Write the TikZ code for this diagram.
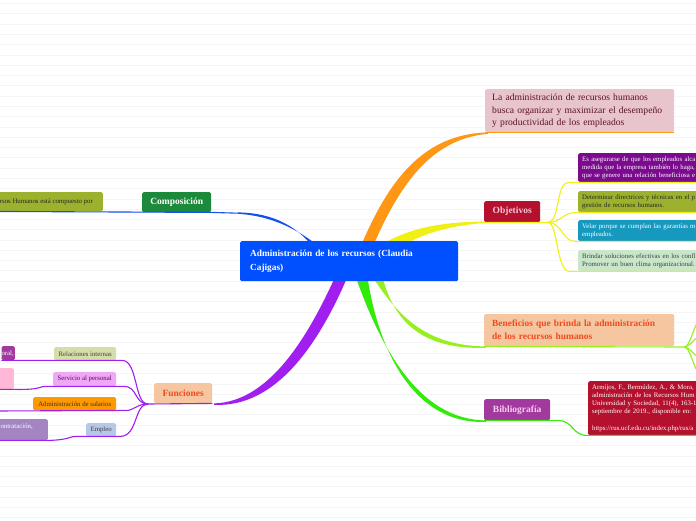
\documentclass[tikz,border=0pt]{standalone}
\usepackage{fontspec}
\setmainfont{Liberation Serif}
\usepackage{xcolor}
\usetikzlibrary{positioning}

\definecolor{centerblue}{RGB}{0,80,255}
\definecolor{compgreen}{RGB}{27,138,58}
\definecolor{olivebox}{RGB}{156,178,46}
\definecolor{pinkbox}{RGB}{232,197,204}
\definecolor{pinktext}{RGB}{90,20,40}
\definecolor{crimson}{RGB}{181,16,46}
\definecolor{objtext}{RGB}{245,200,215}
\definecolor{purplebox}{RGB}{123,10,142}
\definecolor{tealbox}{RGB}{22,153,191}
\definecolor{mintbox}{RGB}{200,230,202}
\definecolor{peachbox}{RGB}{245,198,160}
\definecolor{redorange}{RGB}{240,74,32}
\definecolor{magentabox}{RGB}{162,57,158}
\definecolor{biblitext}{RGB}{248,205,240}
\definecolor{relbox}{RGB}{213,222,168}
\definecolor{servbox}{RGB}{240,168,245}
\definecolor{pinkleft}{RGB}{255,184,216}
\definecolor{salbox}{RGB}{255,153,0}
\definecolor{empbox}{RGB}{181,200,232}
\definecolor{lavbox}{RGB}{163,133,194}
\definecolor{bluebr}{RGB}{20,80,240}
\definecolor{orangebr}{RGB}{255,150,20}
\definecolor{yellowbr}{RGB}{240,240,20}
\definecolor{limebr}{RGB}{150,240,30}
\definecolor{greenbr}{RGB}{50,235,10}
\definecolor{violetbr}{RGB}{160,30,240}

\begin{document}
\begin{tikzpicture}[x=1pt, y=-1pt,
    ruled/.style={draw=black!4, line width=0.4pt},
    box/.style={rectangle, rounded corners=1.5pt, anchor=north west, inner ysep=0pt},
    title/.style={box, inner xsep=0pt, font=\bfseries\fontsize{9.5}{12}\selectfont},
    note/.style={box, align=left, inner xsep=4pt, text width=170pt, font=\fontsize{6.8}{8}\selectfont},
    tag/.style={box, inner xsep=0pt, font=\fontsize{6.8}{8}\selectfont},
    wire/.style={line width=1.1pt}]

  \useasboundingbox (0,0) rectangle (696,520);
  \fill[white] (0,0) rectangle (696,520);
  % ruled background
  \foreach \k in {0,...,50}
    \draw[ruled] (0,{3.4+10.28*\k}) -- (696,{3.4+10.28*\k});

  % main branches
  \fill[bluebr] (321,258) .. controls (300,225) and (272,213) .. (238,212.4)
    -- (238,213.8) .. controls (274,216) and (306,232) .. (331,258) -- cycle;
  \fill[orangebr] (356,258) .. controls (385,185) and (420,134) .. (488,132.4)
    -- (488,133.8) .. controls (428,139) and (396,190) .. (368,258) -- cycle;
  \fill[yellowbr] (373,250) .. controls (405,228) and (440,222) .. (486,221.4)
    -- (486,222.8) .. controls (445,226) and (412,236) .. (388,256) -- cycle;
  \fill[limebr] (366,266) .. controls (395,315) and (425,346) .. (486,346.4)
    -- (486,347.8) .. controls (418,350) and (390,318) .. (380,266) -- cycle;
  \fill[greenbr] (352,266) .. controls (380,350) and (420,420) .. (486,420.4)
    -- (486,421.8) .. controls (414,425) and (376,350) .. (366,266) -- cycle;
  \fill[violetbr] (340,266) .. controls (312,330) and (272,402) .. (214,403.4)
    -- (214,404.8) .. controls (278,408) and (322,340) .. (352,266) -- cycle;

  % centre
  \node[box, fill=centerblue, text=white, align=left, inner xsep=10pt,
    text width=198pt, minimum height=40pt,
    font=\bfseries\fontsize{9.3}{14}\selectfont] (admin) at (240,241)
    {Administración de los recursos (Claudia\\Cajigas)};

  % Composición
  \node[title, fill=compgreen, text=white, minimum width=69pt, minimum height=20pt] (comp) at (142,192) {Composición};
  \node[tag, anchor=north east, fill=olivebox, text=black!85, minimum height=19pt] (struct) at (103,192)
    {Recursos Humanos está compuesto por\hspace*{10pt}};
  \draw[wire, bluebr] (struct.south west) -- (comp.south east) -- ++(27,0.8);

  % definition
  \node[box, fill=pinkbox, text=pinktext, align=left, inner xsep=7pt, text width=175pt,
    minimum height=43pt, font=\fontsize{9.6}{12.4}\selectfont] (define) at (485,89)
    {La administración de recursos humanos\\busca organizar y maximizar el desempeño\\y productividad de los empleados};
  \draw[wire, orangebr] (define.south west) -- (define.south east);

  % Objetivos
  \node[title, fill=crimson, text=objtext, minimum width=56pt, minimum height=21pt] (goals) at (484,201) {Objetivos};
  \coordinate (goalhub) at (548,222.5);
  \node[note, fill=purplebox, text=white, minimum height=29pt] (goal1) at (578,153)
    {Es asegurarse de que los empleados alca\\medida que la empresa también lo haga,\\que se genere una relación beneficiosa e};
  \node[note, fill=olivebox, text=black!85, minimum height=21pt] (goal2) at (578,191)
    {Determinar directrices y técnicas en el p\\gestión de recursos humanos.};
  \node[note, fill=tealbox, text=white, minimum height=21pt] (goal3) at (578,220)
    {Velar porque se cumplan las garantías m\\empleados.};
  \node[note, fill=mintbox, text=black!75, minimum height=21pt] (goal4) at (578,250)
    {Brindar soluciones efectivas en los confl\\Promover un buen clima organizacional.};
  \draw[wire, yellowbr] (goals.south west) -- (goalhub);
  \draw[wire, yellowbr] (goalhub) .. controls (560,222) and (556,183) .. ([xshift=-10pt]goal1.south west) -- (goal1.south east);
  \draw[wire, yellowbr] (goalhub) .. controls (562,222) and (562,213) .. ([xshift=-2pt]goal2.south west) -- (goal2.south east);
  \draw[wire, yellowbr] (goalhub) .. controls (562,222) and (562,242) .. ([xshift=-2pt]goal3.south west) -- (goal3.south east);
  \draw[wire, yellowbr] (goalhub) .. controls (558,222) and (556,272) .. ([xshift=-8pt]goal4.south west) -- (goal4.south east);

  % Beneficios
  \node[box, fill=peachbox, text=redorange, align=left, inner xsep=8pt, text width=174pt,
    minimum height=32pt, font=\bfseries\fontsize{9.4}{13}\selectfont] (gains) at (484,314)
    {Beneficios que brinda la administración\\de los recursos humanos};
  \coordinate (gainhub) at (684,347);
  \draw[wire, limebr] (gains.south west) -- (gainhub);
  \draw[wire, limebr] (gainhub) .. controls (690,347) and (692,330) .. (700,318);
  \draw[wire, limebr] (gainhub) .. controls (690,347) and (692,340) .. (700,336);
  \draw[wire, limebr] (gainhub) .. controls (690,347) and (692,354) .. (700,358);
  \draw[wire, limebr] (gainhub) .. controls (690,347) and (692,364) .. (700,376);

  % Bibliografía
  \node[title, fill=magentabox, text=biblitext, minimum width=66pt, minimum height=21pt] (biblio) at (484,399) {Bibliografía};
  \node[note, fill=crimson, text=white, minimum height=54pt, font=\fontsize{6.8}{8.2}\selectfont] (refs) at (588,381)
    {Armijos, F., Bermúdez, A., \& Mora, N.\\administración de los Recursos Hum\\Universidad y Sociedad, 11(4), 163-1\\septiembre de 2019., disponible en:\\[8.2pt]https://rus.ucf.edu.cu/index.php/rus/a};
  \draw[wire, greenbr] (biblio.south west) -- ([xshift=8pt]biblio.south east)
    .. controls (574,421) and (572,436) .. (refs.south west) -- (refs.south east);

  % Funciones
  \node[title, fill=peachbox, text=redorange, minimum width=58pt, minimum height=20pt] (tasks) at (154,383) {Funciones};
  \coordinate (taskhub) at (148,404);
  \draw[wire, violetbr] (tasks.south east) -- (taskhub);

  \node[tag, fill=relbox, text=black!75, minimum width=62pt, minimum height=13pt] (rel) at (54,347) {Relaciones internas};
  \node[tag, anchor=north east, fill=magentabox, text=white, minimum height=14pt] (relleft) at (15,346) {oral,\hspace*{1pt}};
  \node[tag, fill=servbox, text=purplebox!70!black, minimum width=63pt, minimum height=14pt] (serv) at (53,372) {Servicio al personal};
  \node[box, anchor=north east, fill=pinkleft, minimum width=30pt, minimum height=21pt] (servleft) at (14,368) {};
  \node[tag, fill=salbox, text=black!80, minimum width=83pt, minimum height=13pt] (wages) at (33,397) {Administración de salarios};
  \coordinate (wagesend) at (-5,411);
  \node[tag, fill=empbox, text=black!75, minimum width=30pt, minimum height=13pt] (job) at (86,423) {Empleo};
  \node[box, anchor=north east, fill=lavbox, text=white, align=right, inner xsep=0pt, text width=70pt,
    minimum height=21pt, font=\fontsize{6.8}{8}\selectfont] (jobleft) at (48,419) {contratación,\kern15pt\\ \mbox{}};

  \draw[wire, violetbr] (taskhub) .. controls (134,404) and (138,361) .. ([xshift=6pt]rel.south east) -- (relleft.south west);
  \draw[wire, violetbr] (taskhub) .. controls (134,404) and (138,386) .. ([xshift=7pt]serv.south east) -- ([xshift=-8pt]serv.south west)
    .. controls (40,386) and (42,390) .. (servleft.south east) -- (servleft.south west);
  \draw[wire, violetbr] (taskhub) .. controls (136,404) and (134,411) .. ([xshift=9pt]wages.south east) -- (wagesend);
  \draw[wire, violetbr] (taskhub) .. controls (134,404) and (138,436) .. ([xshift=4pt]job.south east) -- ([xshift=-10pt]job.south west)
    .. controls (70,436) and (70,440) .. (jobleft.south east) -- (jobleft.south west);
\end{tikzpicture}
\end{document}
